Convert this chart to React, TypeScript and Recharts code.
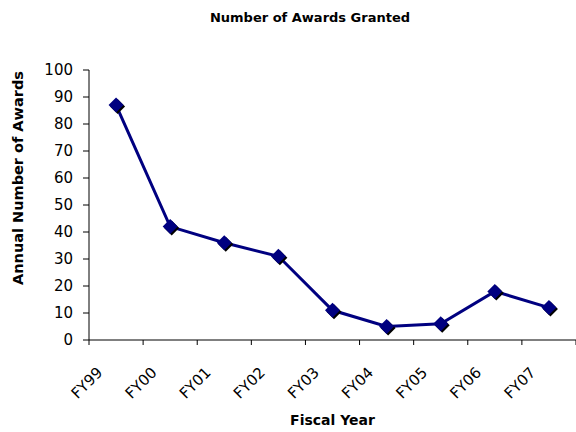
import { LineChart, Line, XAxis, YAxis, Label } from 'recharts'

const years = ['FY99', 'FY00', 'FY01', 'FY02', 'FY03', 'FY04', 'FY05', 'FY06', 'FY07']
const awards = [87, 42, 36, 31, 11, 5, 6, 18, 12]
const yTicks = [0, 10, 20, 30, 40, 50, 60, 70, 80, 90, 100]
const boundaryTicks = [0, 1, 2, 3, 4, 5, 6, 7, 8, 9]

const data = years.map((year, i) => ({ year, slot: i, awards: awards[i] }))

const NAVY = '#000080'
const FONT = '"DejaVu Sans", sans-serif'

// Excel-ish diamond marker with a dark drop shadow
const Diamond = (props: any) => {
  const { cx, cy } = props
  if (cx == null || cy == null) return null
  const r = 7.5
  const pts = (dx: number, dy: number) =>
    `${cx + dx},${cy - r + dy} ${cx + r + dx},${cy + dy} ${cx + dx},${cy + r + dy} ${cx - r + dx},${cy + dy}`
  return (
    <g key={`d-${cx}`}>
      <polygon points={pts(1.5, 1.5)} fill="#000" />
      <polygon points={pts(0, 0)} fill={NAVY} />
    </g>
  )
}

const YTitle = (props: any) => {
  const { viewBox } = props
  const x = viewBox.x + 23
  const y = viewBox.y + viewBox.height / 2 - 27
  return (
    <text
      x={x}
      y={y}
      transform={`rotate(-90, ${x}, ${y})`}
      textAnchor="middle"
      fontFamily={FONT}
      fontWeight="bold"
      fontSize={14.5}
      fill="#000"
    >
      Annual Number of Awards
    </text>
  )
}

export default function App() {
  return (
    <div style={{ position: 'absolute', left: 0, top: 0, width: 576, height: 432, background: '#fff' }}>
      <div
        style={{
          position: 'absolute',
          left: 0,
          top: 10,
          width: 620,
          textAlign: 'center',
          fontFamily: FONT,
          fontWeight: 'bold',
          fontSize: 13,
          color: '#000',
        }}
      >
        Number of Awards Granted
      </div>
      <LineChart
        width={576}
        height={432}
        data={data}
        margin={{ top: 70, right: 0, bottom: 0, left: 0 }}
        style={{ fontFamily: FONT }}
      >
        {/* category boundaries: tick marks sit between the fiscal years */}
        <XAxis
          xAxisId="bounds"
          type="number"
          dataKey="slot"
          domain={[0, boundaryTicks.length - 1]}
          allowDataOverflow
          ticks={boundaryTicks}
          interval={0}
          tickFormatter={() => ''}
          tickSize={5}
          height={5}
          stroke="#000"
        />
        <XAxis
          xAxisId="cat"
          dataKey="year"
          scale="band"
          interval={0}
          axisLine={false}
          tickLine={false}
          tickSize={0}
          height={87}
          angle={-45}
          textAnchor="end"
          dx={-20}
          dy={19}
          tick={{ fill: '#000', fontSize: 15 }}
        >
          <Label value="Fiscal Year" position="insideBottom" offset={7} fontWeight="bold" fontSize={14} fill="#000" />
        </XAxis>
        <YAxis
          domain={[0, 100]}
          ticks={yTicks}
          interval={0}
          width={89}
          tickSize={6}
          tickMargin={10}
          stroke="#000"
          tick={{ fill: '#000', fontSize: 15 }}
        >
          <Label content={<YTitle />} />
        </YAxis>
        <Line
          xAxisId="cat"
          dataKey="awards"
          stroke={NAVY}
          strokeWidth={3}
          dot={<Diamond />}
          activeDot={false}
          isAnimationActive={false}
        />
      </LineChart>
    </div>
  )
}
